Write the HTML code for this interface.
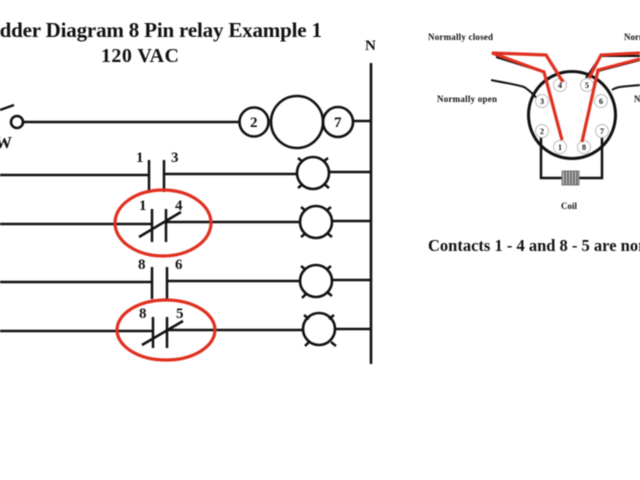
<!DOCTYPE html>
<html><head><meta charset="utf-8"><style>
html,body{margin:0;padding:0;background:#fff;width:640px;height:480px;overflow:hidden}
svg{display:block}
text{font-family:"Liberation Serif",serif;font-weight:bold;fill:#111}
.l{stroke:#111;stroke-width:2.6;fill:none}
.t{stroke:#111;stroke-width:2.5;fill:none}
.r{stroke:#e03020;stroke-width:3.2;fill:none}
.p{stroke:#bbb;stroke-width:1;fill:#fff}
</style></head><body>
<svg width="640" height="480" viewBox="0 0 640 480" xmlns="http://www.w3.org/2000/svg">
<rect width="640" height="480" fill="#fff"/>
<g style="filter:blur(.45px)">
<text x="-24.5" y="37" font-size="21" textLength="346.5" lengthAdjust="spacing">Ladder Diagram 8 Pin relay Example 1</text>
<text x="101" y="62" font-size="20" textLength="78" lengthAdjust="spacing">120 VAC</text>
<text x="365" y="50" font-size="15">N</text>
<path class="l" d="M371 63V364"/>

<!-- rung 1 -->
<path d="M0 110L14 105" stroke="#111" stroke-width="2.5"/>
<circle cx="17" cy="122" r="6" class="l"/>
<text x="-5" y="148" font-size="17">W</text>
<path class="t" d="M24 122H240M353 121H371"/>
<circle cx="254" cy="122" r="14.5" class="l"/>
<circle cx="338" cy="122" r="15" class="l"/>
<circle cx="297" cy="122" r="26" class="l"/>
<text x="250" y="127" font-size="15">2</text>
<text x="334" y="127" font-size="15">7</text>

<!-- rung 2 -->
<path class="t" d="M0 175H149M164 174H297M329 172H371"/>
<path class="t" d="M149 160V192M164 160V192"/>
<text x="136" y="162" font-size="15">1</text>
<text x="171" y="162" font-size="15">3</text>
<circle cx="313" cy="173" r="16" class="l"/><path class="t" d="M298 158L303 162M328 158L323 162M298 188L303 184M329 188L324 184"/>

<!-- rung 3 -->
<path class="t" d="M0 224H152M166 222H300M332 221H371"/>
<path class="t" d="M152 209V242M166 209V242M139 237L181 212"/>
<text x="139" y="210" font-size="15">1</text>
<text x="175" y="210" font-size="15">4</text>
<ellipse cx="163" cy="223" rx="48" ry="33" fill="none" stroke="#e03020" stroke-width="3.2"/>
<circle cx="316" cy="222" r="16" class="l"/><path class="t" d="M301 207L306 211M331 207L326 211M301 237L306 233M332 237L327 233"/>

<!-- rung 4 -->
<path class="t" d="M0 282H152M167 281H300M332 280H371"/>
<path class="t" d="M152 267V299M167 267V299"/>
<text x="138" y="269" font-size="15">8</text>
<text x="175" y="269" font-size="15">6</text>
<circle cx="316" cy="281" r="16" class="l"/><path class="t" d="M301 266L306 270M331 266L326 270M302 298L307 293M332 296L327 292"/>

<!-- rung 5 -->
<path class="t" d="M0 331H153M167 330H303M335 329H371"/>
<path class="t" d="M153 317V348M167 317V348M142 345L183 321"/>
<text x="139" y="318" font-size="15">8</text>
<text x="176" y="318" font-size="15">5</text>
<ellipse cx="166" cy="330" rx="49" ry="30" fill="none" stroke="#e03020" stroke-width="3.2"/>
<circle cx="319" cy="329" r="16" class="l"/><path class="t" d="M304 315L309 319M334 315L329 319M305 346L310 341M336 346L331 342"/>

<!-- relay base -->
<circle cx="572" cy="115" r="43.5" fill="none" stroke="#111" stroke-width="3"/>
<path d="M541 131V178H602V131" fill="none" stroke="#111" stroke-width="2.5"/>
<rect x="562" y="171" width="17" height="14" fill="#aaa" stroke="#777"/>
<path d="M565 171V185M568 171V185M571 171V185M574 171V185M577 171V185" stroke="#555" stroke-width="1"/>
<path d="M491 80C505 83 515 84 524 87C531 91 534 96 539 100" fill="none" stroke="#111" stroke-width="2"/>
<path d="M612 90C618 86 622 87 640 85" fill="none" stroke="#111" stroke-width="2"/>
<path d="M496 57L544 72L562 140M586 78L601 56H640M582 142L598 71L640 60" fill="none" stroke="#111" stroke-width="2"/>
<g>
<circle cx="560" cy="85" r="6.5" class="p"/><circle cx="587" cy="85" r="6.5" class="p"/>
<circle cx="542" cy="101" r="6.5" class="p"/><circle cx="601" cy="101" r="6.5" class="p"/>
<circle cx="542" cy="131" r="6.5" class="p"/><circle cx="602" cy="131" r="6.5" class="p"/>
<circle cx="560" cy="147" r="6.5" class="p"/><circle cx="584" cy="147" r="6.5" class="p"/>
</g>
<path class="r" d="M563 82L546 55L492 53L544 72L562 140"/>
<path class="r" d="M589 78L601 55L640 53M640 59L598 70L582 142"/>
<g font-size="8" text-anchor="middle">
<text x="560" y="88">4</text><text x="587" y="88">5</text>
<text x="542" y="104">3</text><text x="601" y="104">6</text>
<text x="542" y="134">2</text><text x="602" y="134">7</text>
<text x="560" y="150">1</text><text x="584" y="150">8</text>
</g>
<text x="428" y="40" font-size="9" textLength="65">Normally closed</text>
<text x="437" y="102" font-size="9" textLength="60">Normally open</text>
<text x="624" y="40" font-size="9">Normally open</text>
<text x="634" y="102" font-size="9">Normally closed</text>
<text x="561" y="209" font-size="9">Coil</text>
<text x="428" y="251" font-size="16.5">Contacts 1 - 4 and 8 - 5 are normally closed</text>
</g>
</svg>
</body></html>
